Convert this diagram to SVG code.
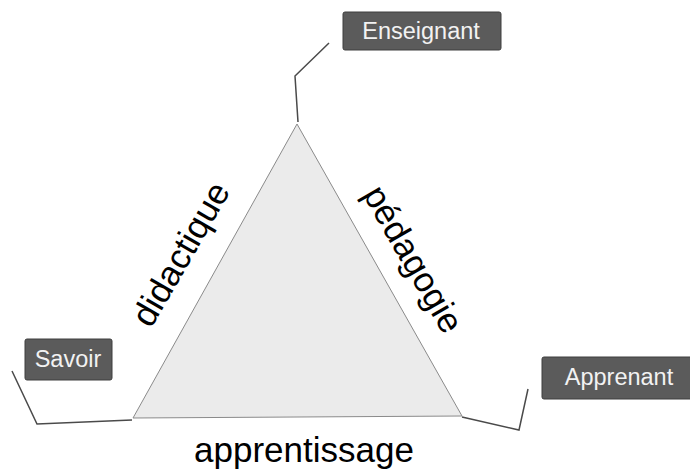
<svg xmlns="http://www.w3.org/2000/svg" width="690" height="470" viewBox="0 0 690 470">
<style>
.box{fill:#5b5b5b;stroke:#3e3e3e;stroke-width:1}
.bt{font-family:"Liberation Sans",Arial,sans-serif;font-size:23.5px;fill:#f2f2f2;text-anchor:middle}
.lbl{font-family:"Liberation Sans",Arial,sans-serif;font-size:35px;fill:#000;text-anchor:middle}
.con{fill:none;stroke:#4a4a4a;stroke-width:1.5}
</style>
<rect width="690" height="470" fill="#fff"/>
<g id="triangle">
<polygon points="297,124 133,418 462,416" fill="#ebebeb" stroke="#8a8a8a" stroke-width="1"/>
</g>
<g id="connectors">
<polyline class="con" points="298,122 295,76 329,43"/>
<polyline class="con" points="132,420 37,424 12,371"/>
<polyline class="con" points="462,417 519,430 528,389"/>
</g>
<g id="enseignant">
<rect class="box" x="343" y="12" width="158" height="38" rx="2"/>
<text class="bt" x="421" y="39">Enseignant</text>
</g>
<g id="savoir">
<rect class="box" x="25" y="339" width="87" height="41" rx="2"/>
<text class="bt" x="68" y="367">Savoir</text>
</g>
<g id="apprenant">
<rect class="box" x="542" y="357" width="155" height="42" rx="2"/>
<text class="bt" x="619" y="385">Apprenant</text>
</g>
<g id="labels">
<text class="lbl" transform="translate(191,260) rotate(-60)">didactique</text>
<text class="lbl" transform="translate(403,265) rotate(60)">pédagogie</text>
<text class="lbl" x="304" y="462">apprentissage</text>
</g>
</svg>
